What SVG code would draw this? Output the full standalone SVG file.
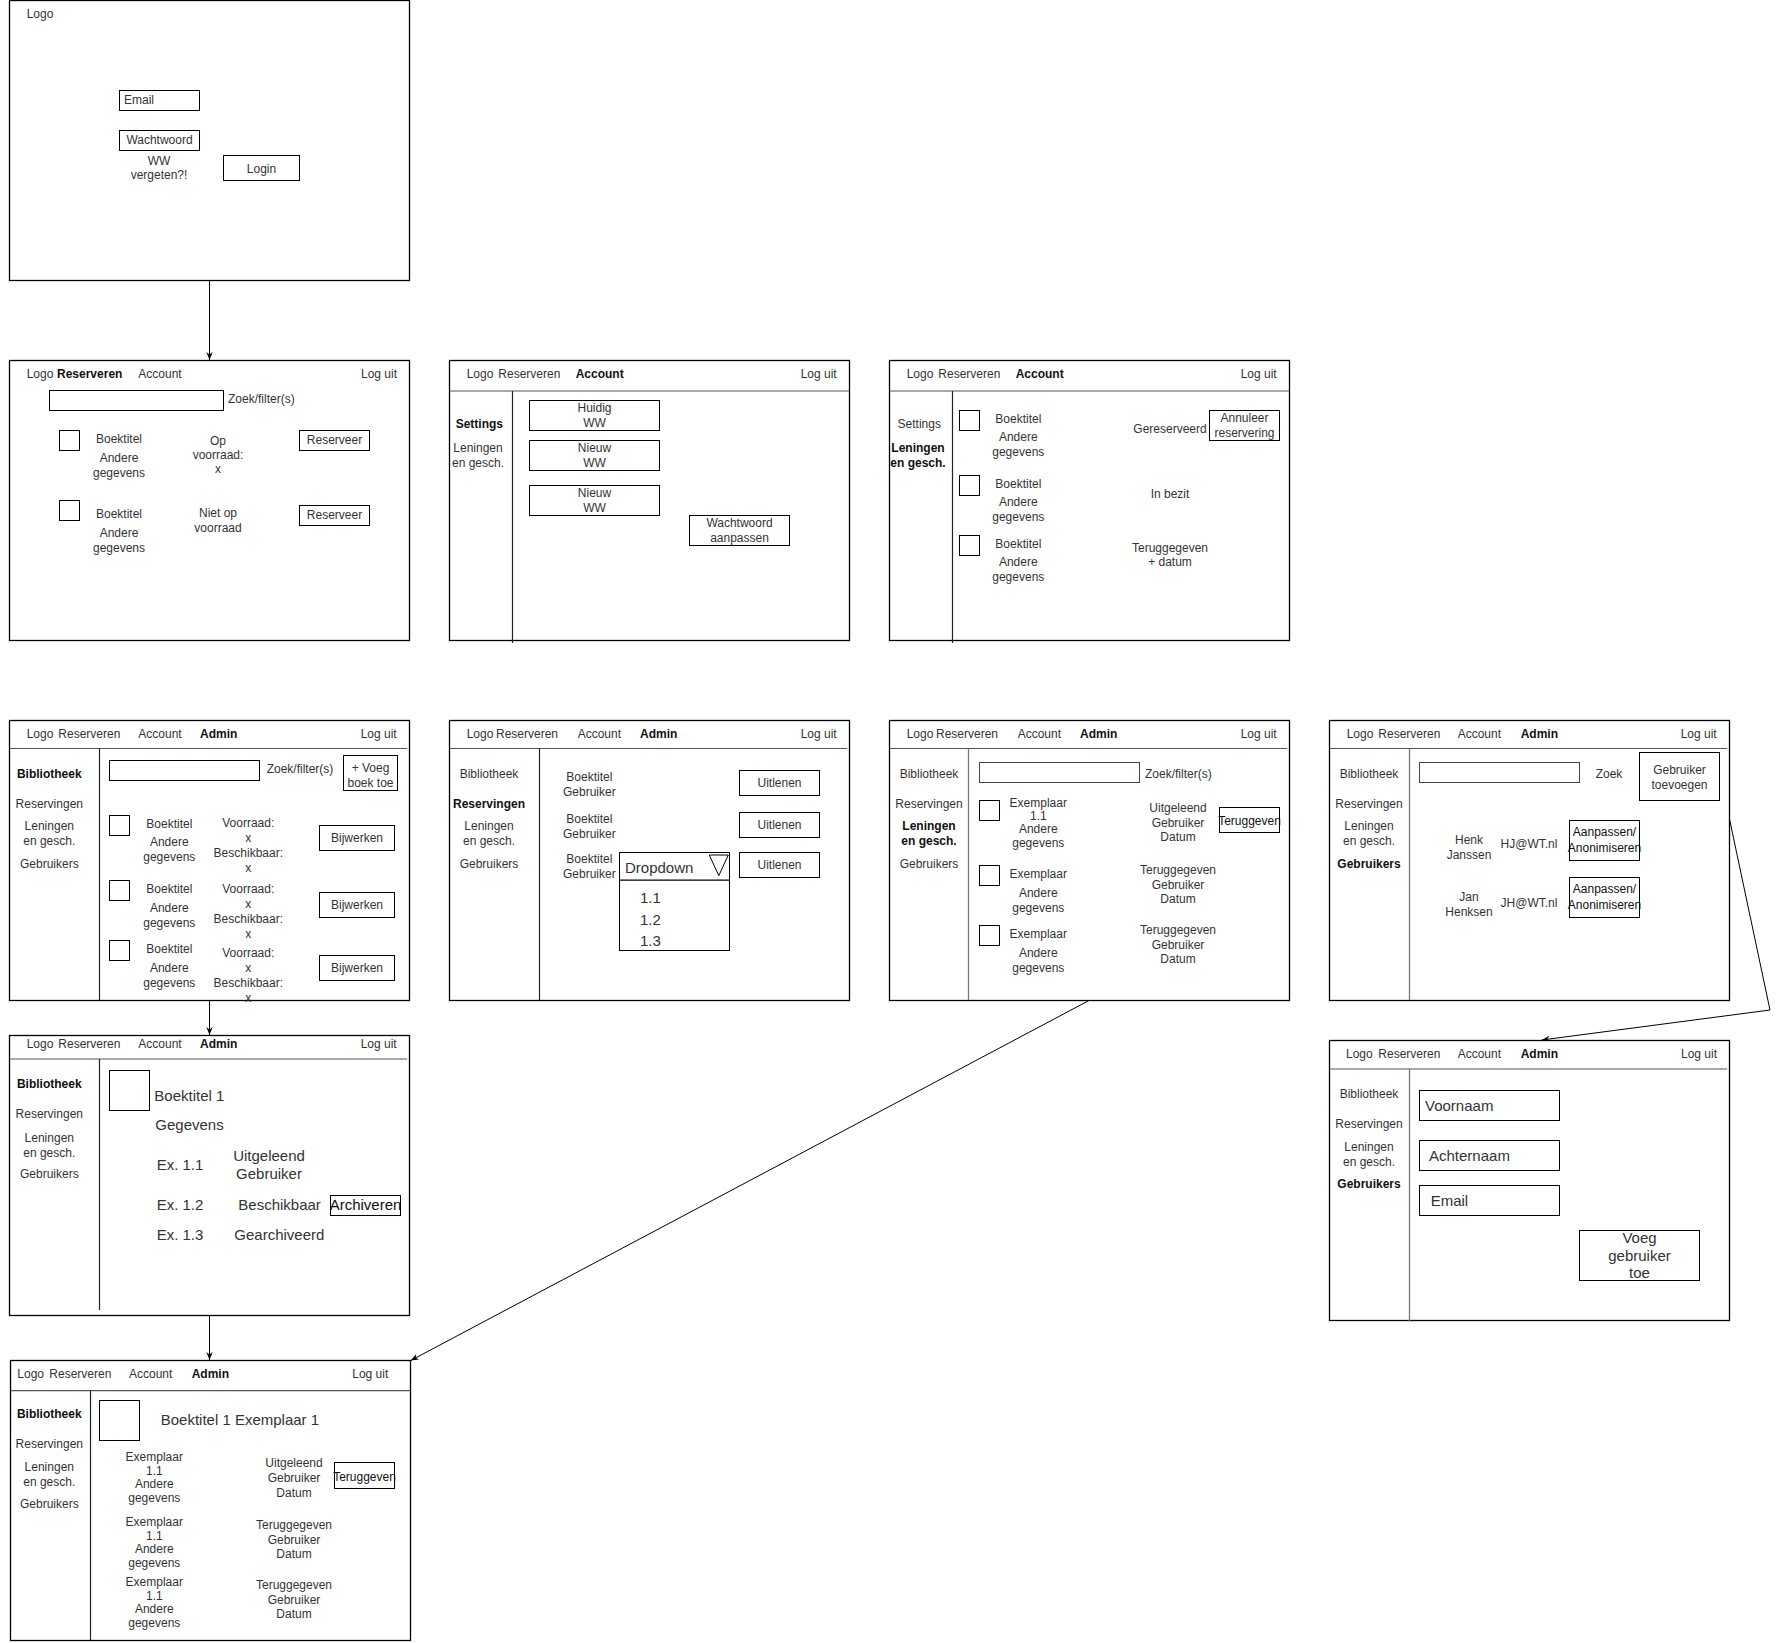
<svg xmlns="http://www.w3.org/2000/svg" width="1779" height="1643" viewBox="0 0 1779 1643">
<style>
.scr{fill:#fff;stroke:#000;stroke-width:1.3}
.box{fill:#fff;stroke:#000;stroke-width:1}
.hl{stroke:#555;stroke-width:1.2;fill:none}
.sl{stroke:#222;stroke-width:1.2;fill:none}
.sg{stroke:#777;stroke-width:1.3;fill:none}
.t{font-family:"Liberation Sans",Arial,Helvetica,sans-serif;font-size:12px;fill:#333}
.c{text-anchor:middle}
.e{text-anchor:end}
.b{font-weight:bold;fill:#111}
.l{font-size:15px}
.edge{stroke:#000;stroke-width:1;fill:none}
</style>
<defs>
<marker id="arr" viewBox="0 0 10 10" refX="10" refY="5" markerWidth="8" markerHeight="8" markerUnits="userSpaceOnUse" orient="auto">
<path d="M0,1 L10,5 L0,9 L3,5 Z" fill="#000"/>
</marker>
</defs>
<rect width="1779" height="1643" fill="#fff"/>

<g id="connectors">
<path class="edge" d="M209.5,280.5 V360" marker-end="url(#arr)"/>
<path class="edge" d="M209.5,1000.5 V1035" marker-end="url(#arr)"/>
<path class="edge" d="M209.5,1315.5 V1360" marker-end="url(#arr)"/>
<path class="edge" d="M1089,1000.5 L410.7,1360.5" marker-end="url(#arr)"/>
<path class="edge" d="M1719.5,772 L1770,1010 L1541.7,1040" marker-end="url(#arr)"/>
</g>

<g id="login">
<rect class="scr" x="9.5" y="0.5" width="400" height="280"/>
<text class="t" x="26.7" y="18">Logo</text>
<rect class="box" x="119.5" y="90.5" width="80" height="20"/>
<text class="t" x="124" y="103.5">Email</text>
<rect class="box" x="119.5" y="130.5" width="80" height="20"/>
<text class="t c" x="159.5" y="143.5">Wachtwoord</text>
<text class="t c" x="159" y="165">WW</text>
<text class="t c" x="159" y="179">vergeten?!</text>
<rect class="box" x="223.5" y="155.5" width="76" height="25"/>
<text class="t c" x="261.5" y="173">Login</text>
</g>

<g id="reserveren">
<rect class="scr" x="9.5" y="360.5" width="400" height="280"/>
<text class="t" x="26.7" y="378">Logo</text>
<text class="t b" x="57" y="378">Reserveren</text>
<text class="t" x="138.3" y="378">Account</text>
<text class="t e" x="397" y="378">Log uit</text>
<rect class="box" x="49.5" y="390.5" width="174" height="20"/>
<text class="t" x="228" y="403">Zoek/filter(s)</text>
<rect class="box" x="59.5" y="430.5" width="20" height="20"/>
<text class="t c" x="119" y="443">Boektitel</text>
<text class="t c" x="119" y="461.5">Andere</text>
<text class="t c" x="119" y="476.5">gegevens</text>
<text class="t c" x="218" y="445">Op</text>
<text class="t c" x="218" y="459">voorraad:</text>
<text class="t c" x="218" y="473">x</text>
<rect class="box" x="299.5" y="430.5" width="70" height="20"/>
<text class="t c" x="334.5" y="444">Reserveer</text>
<rect class="box" x="59.5" y="500.5" width="20" height="20"/>
<text class="t c" x="119" y="518.3">Boektitel</text>
<text class="t c" x="119" y="536.7">Andere</text>
<text class="t c" x="119" y="551.7">gegevens</text>
<text class="t c" x="218" y="516.7">Niet op</text>
<text class="t c" x="218" y="531.7">voorraad</text>
<rect class="box" x="299.5" y="505.5" width="70" height="20"/>
<text class="t c" x="334.5" y="519">Reserveer</text>
</g>

<g id="account-settings">
<rect class="scr" x="449.5" y="360.5" width="400" height="280"/>
<path class="hl" d="M449.5,391 H849"/>
<path class="sl" d="M512.5,391 V643"/>
<text class="t" x="466.7" y="378">Logo</text>
<text class="t" x="498.3" y="378">Reserveren</text>
<text class="t b" x="575.7" y="378">Account</text>
<text class="t e" x="836.7" y="378">Log uit</text>
<text class="t b c" x="479.3" y="428.3">Settings</text>
<text class="t c" x="478" y="451.7">Leningen</text>
<text class="t c" x="478" y="466.7">en gesch.</text>
<rect class="box" x="529.5" y="400.5" width="130" height="30"/>
<text class="t c" x="594.5" y="412.3">Huidig</text>
<text class="t c" x="594.5" y="427.3">WW</text>
<rect class="box" x="529.5" y="440.5" width="130" height="30"/>
<text class="t c" x="594.5" y="452.3">Nieuw</text>
<text class="t c" x="594.5" y="467.3">WW</text>
<rect class="box" x="529.5" y="485.5" width="130" height="30"/>
<text class="t c" x="594.5" y="497.3">Nieuw</text>
<text class="t c" x="594.5" y="512.3">WW</text>
<rect class="box" x="689.5" y="515.5" width="100" height="30"/>
<text class="t c" x="739.5" y="527.3">Wachtwoord</text>
<text class="t c" x="739.5" y="542.3">aanpassen</text>
</g>

<g id="account-leningen">
<rect class="scr" x="889.5" y="360.5" width="400" height="280"/>
<path class="hl" d="M889.5,391 H1289"/>
<path class="sl" d="M952.5,391 V643"/>
<text class="t" x="906.7" y="378">Logo</text>
<text class="t" x="938.3" y="378">Reserveren</text>
<text class="t b" x="1015.7" y="378">Account</text>
<text class="t e" x="1276.7" y="378">Log uit</text>
<text class="t c" x="919.3" y="428.3">Settings</text>
<text class="t b c" x="918" y="451.7">Leningen</text>
<text class="t b c" x="918" y="466.7">en gesch.</text>
<rect class="box" x="959.5" y="410.5" width="20" height="20"/>
<text class="t c" x="1018.3" y="423.3">Boektitel</text>
<text class="t c" x="1018.3" y="441">Andere</text>
<text class="t c" x="1018.3" y="456">gegevens</text>
<text class="t c" x="1170" y="433.3">Gereserveerd</text>
<rect class="box" x="1209.5" y="410.5" width="70" height="30"/>
<text class="t c" x="1244.5" y="421.5">Annuleer</text>
<text class="t c" x="1244.5" y="436.5">reservering</text>
<rect class="box" x="959.5" y="475.5" width="20" height="20"/>
<text class="t c" x="1018.3" y="488.3">Boektitel</text>
<text class="t c" x="1018.3" y="505.7">Andere</text>
<text class="t c" x="1018.3" y="521">gegevens</text>
<text class="t c" x="1170" y="498.3">In bezit</text>
<rect class="box" x="959.5" y="535.5" width="20" height="20"/>
<text class="t c" x="1018.3" y="548.3">Boektitel</text>
<text class="t c" x="1018.3" y="566">Andere</text>
<text class="t c" x="1018.3" y="581">gegevens</text>
<text class="t c" x="1170" y="551.7">Teruggegeven</text>
<text class="t c" x="1170" y="566">+ datum</text>
</g>

<g id="admin-bibliotheek">
<rect class="scr" x="9.5" y="720.5" width="400" height="280"/>
<path class="hl" d="M9.5,748.5 H407"/>
<path class="sl" d="M99.5,748.5 V1000"/>
<text class="t" x="26.7" y="738.3">Logo</text>
<text class="t" x="58.3" y="738.3">Reserveren</text>
<text class="t" x="138.3" y="738.3">Account</text>
<text class="t b" x="200" y="738.3">Admin</text>
<text class="t e" x="396.7" y="738.3">Log uit</text>
<text class="t b c" x="49.3" y="778.3">Bibliotheek</text>
<text class="t c" x="49.3" y="808.3">Reservingen</text>
<text class="t c" x="49.3" y="830">Leningen</text>
<text class="t c" x="49.3" y="845">en gesch.</text>
<text class="t c" x="49.3" y="868.3">Gebruikers</text>
<rect class="box" x="109.5" y="760.5" width="150" height="20"/>
<text class="t" x="266.7" y="773.3">Zoek/filter(s)</text>
<rect class="box" x="343.5" y="755.5" width="54" height="35"/>
<text class="t c" x="370.5" y="771.7">+ Voeg</text>
<text class="t c" x="370.5" y="786.7">boek toe</text>
<rect class="box" x="109.5" y="815.5" width="20" height="20"/>
<text class="t c" x="169.3" y="828.3">Boektitel</text>
<text class="t c" x="169.3" y="846">Andere</text>
<text class="t c" x="169.3" y="861">gegevens</text>
<text class="t c" x="248.3" y="826.7">Voorraad:</text>
<text class="t c" x="248.3" y="841.7">x</text>
<text class="t c" x="248.3" y="856.7">Beschikbaar:</text>
<text class="t c" x="248.3" y="871.7">x</text>
<rect class="box" x="319.5" y="825.5" width="75" height="25"/>
<text class="t c" x="357" y="841.5">Bijwerken</text>
<rect class="box" x="109.5" y="880.5" width="20" height="20"/>
<text class="t c" x="169.3" y="893.3">Boektitel</text>
<text class="t c" x="169.3" y="911.7">Andere</text>
<text class="t c" x="169.3" y="926.7">gegevens</text>
<text class="t c" x="248.3" y="893.3">Voorraad:</text>
<text class="t c" x="248.3" y="908.3">x</text>
<text class="t c" x="248.3" y="923.3">Beschikbaar:</text>
<text class="t c" x="248.3" y="938.3">x</text>
<rect class="box" x="319.5" y="892.5" width="75" height="25"/>
<text class="t c" x="357" y="908.5">Bijwerken</text>
<rect class="box" x="109.5" y="940.5" width="20" height="20"/>
<text class="t c" x="169.3" y="953.3">Boektitel</text>
<text class="t c" x="169.3" y="971.7">Andere</text>
<text class="t c" x="169.3" y="986.7">gegevens</text>
<text class="t c" x="248.3" y="956.7">Voorraad:</text>
<text class="t c" x="248.3" y="971.7">x</text>
<text class="t c" x="248.3" y="986.7">Beschikbaar:</text>
<text class="t c" x="248.3" y="1001.7">x</text>
<rect class="box" x="319.5" y="955.5" width="75" height="25"/>
<text class="t c" x="357" y="971.5">Bijwerken</text>
</g>

<g id="admin-reserveringen">
<rect class="scr" x="449.5" y="720.5" width="400" height="280"/>
<path class="hl" d="M449.5,748.5 H847"/>
<path class="sl" d="M539.5,748.5 V1000"/>
<text class="t" x="466.7" y="738.3">Logo</text>
<text class="t" x="496" y="738.3">Reserveren</text>
<text class="t" x="577.7" y="738.3">Account</text>
<text class="t b" x="640" y="738.3">Admin</text>
<text class="t e" x="836.7" y="738.3">Log uit</text>
<text class="t c" x="489" y="778.3">Bibliotheek</text>
<text class="t b c" x="489" y="808.3">Reservingen</text>
<text class="t c" x="489" y="830">Leningen</text>
<text class="t c" x="489" y="845">en gesch.</text>
<text class="t c" x="489" y="868.3">Gebruikers</text>
<text class="t c" x="589.3" y="780.5">Boektitel</text>
<text class="t c" x="589.3" y="795.5">Gebruiker</text>
<text class="t c" x="589.3" y="823.3">Boektitel</text>
<text class="t c" x="589.3" y="838.3">Gebruiker</text>
<text class="t c" x="589.3" y="863.3">Boektitel</text>
<text class="t c" x="589.3" y="878.3">Gebruiker</text>
<rect class="box" x="739.5" y="770.5" width="80" height="25"/>
<text class="t c" x="779.5" y="786.5">Uitlenen</text>
<rect class="box" x="739.5" y="812.5" width="80" height="25"/>
<text class="t c" x="779.5" y="828.5">Uitlenen</text>
<rect class="box" x="739.5" y="852.5" width="80" height="25"/>
<text class="t c" x="779.5" y="868.5">Uitlenen</text>
<rect class="box" x="619.5" y="880" width="110" height="70.5"/>
<rect class="box" x="619.5" y="852.5" width="110" height="27.5"/>
<path class="edge" d="M709.3,855 L728.3,855 L718.8,875.7 Z" fill="#fff"/>
<text class="t l" x="625" y="873">Dropdown</text>
<text class="t l" x="640" y="903">1.1</text>
<text class="t l" x="640" y="925">1.2</text>
<text class="t l" x="640" y="945.5">1.3</text>
</g>

<g id="admin-leningen">
<rect class="scr" x="889.5" y="720.5" width="400" height="280"/>
<path class="hl" d="M889.5,748.5 H1287"/>
<path class="sg" d="M968.5,748.5 V1000"/>
<text class="t" x="906.7" y="738.3">Logo</text>
<text class="t" x="936" y="738.3">Reserveren</text>
<text class="t" x="1017.7" y="738.3">Account</text>
<text class="t b" x="1080" y="738.3">Admin</text>
<text class="t e" x="1276.7" y="738.3">Log uit</text>
<text class="t c" x="929" y="778.3">Bibliotheek</text>
<text class="t c" x="929" y="808.3">Reservingen</text>
<text class="t b c" x="929" y="830">Leningen</text>
<text class="t b c" x="929" y="845">en gesch.</text>
<text class="t c" x="929" y="868.3">Gebruikers</text>
<rect class="box" x="979.5" y="762.5" width="160" height="20" style="stroke:#444"/>
<text class="t" x="1145" y="777.7">Zoek/filter(s)</text>
<rect class="box" x="979.5" y="800.5" width="20" height="20"/>
<text class="t c" x="1038.3" y="806.5">Exemplaar</text>
<text class="t c" x="1038.3" y="819.5">1.1</text>
<text class="t c" x="1038.3" y="832.5">Andere</text>
<text class="t c" x="1038.3" y="846.5">gegevens</text>
<text class="t c" x="1178" y="812.3">Uitgeleend</text>
<text class="t c" x="1178" y="827.3">Gebruiker</text>
<text class="t c" x="1178" y="841">Datum</text>
<rect class="box" x="1219.5" y="807.5" width="60" height="25"/>
<text class="t c" x="1249.5" y="825" style="fill:#111">Teruggeven</text>
<rect class="box" x="979.5" y="865.5" width="20" height="20"/>
<text class="t c" x="1038.3" y="878.3">Exemplaar</text>
<text class="t c" x="1038.3" y="896.7">Andere</text>
<text class="t c" x="1038.3" y="911.7">gegevens</text>
<text class="t c" x="1178" y="874.3">Teruggegeven</text>
<text class="t c" x="1178" y="889">Gebruiker</text>
<text class="t c" x="1178" y="903.3">Datum</text>
<rect class="box" x="979.5" y="925.5" width="20" height="20"/>
<text class="t c" x="1038.3" y="938.3">Exemplaar</text>
<text class="t c" x="1038.3" y="956.7">Andere</text>
<text class="t c" x="1038.3" y="971.7">gegevens</text>
<text class="t c" x="1178" y="934.3">Teruggegeven</text>
<text class="t c" x="1178" y="949">Gebruiker</text>
<text class="t c" x="1178" y="963.3">Datum</text>
</g>

<g id="admin-gebruikers">
<rect class="scr" x="1329.5" y="720.5" width="400" height="280"/>
<path class="hl" d="M1329.5,748.5 H1727"/>
<path class="sg" d="M1409.5,748.5 V1000"/>
<text class="t" x="1346.7" y="738.3">Logo</text>
<text class="t" x="1378.3" y="738.3">Reserveren</text>
<text class="t" x="1457.7" y="738.3">Account</text>
<text class="t b" x="1520.7" y="738.3">Admin</text>
<text class="t e" x="1716.7" y="738.3">Log uit</text>
<text class="t c" x="1369" y="778.3">Bibliotheek</text>
<text class="t c" x="1369" y="808.3">Reservingen</text>
<text class="t c" x="1369" y="830">Leningen</text>
<text class="t c" x="1369" y="845">en gesch.</text>
<text class="t b c" x="1369" y="868.3">Gebruikers</text>
<rect class="box" x="1419.5" y="762.5" width="160" height="20" style="stroke:#444"/>
<text class="t c" x="1609" y="778.3">Zoek</text>
<rect class="box" x="1639.5" y="752.5" width="80" height="48"/>
<text class="t c" x="1679.5" y="774.3">Gebruiker</text>
<text class="t c" x="1679.5" y="789">toevoegen</text>
<text class="t c" x="1469" y="844.3">Henk</text>
<text class="t c" x="1469" y="859.3">Janssen</text>
<text class="t c" x="1529" y="848.3">HJ@WT.nl</text>
<rect class="box" x="1569.5" y="820.5" width="70" height="40"/>
<text class="t c" x="1604.5" y="836" style="fill:#111">Aanpassen/</text>
<text class="t c" x="1604.5" y="851.7" style="fill:#111">Anonimiseren</text>
<text class="t c" x="1469" y="901">Jan</text>
<text class="t c" x="1469" y="916">Henksen</text>
<text class="t c" x="1529" y="906.7">JH@WT.nl</text>
<rect class="box" x="1569.5" y="877.5" width="70" height="40"/>
<text class="t c" x="1604.5" y="893" style="fill:#111">Aanpassen/</text>
<text class="t c" x="1604.5" y="908.7" style="fill:#111">Anonimiseren</text>
</g>

<g id="boek-detail">
<rect class="scr" x="9.5" y="1035.5" width="400" height="280"/>
<path class="hl" d="M9.5,1059 H407"/>
<path class="sl" d="M99.5,1059 V1310"/>
<text class="t" x="26.7" y="1048.3">Logo</text>
<text class="t" x="58.3" y="1048.3">Reserveren</text>
<text class="t" x="138.3" y="1048.3">Account</text>
<text class="t b" x="200" y="1048.3">Admin</text>
<text class="t e" x="396.7" y="1048.3">Log uit</text>
<text class="t b c" x="49.3" y="1088.3">Bibliotheek</text>
<text class="t c" x="49.3" y="1118.3">Reservingen</text>
<text class="t c" x="49.3" y="1141.7">Leningen</text>
<text class="t c" x="49.3" y="1156.7">en gesch.</text>
<text class="t c" x="49.3" y="1178.3">Gebruikers</text>
<rect class="box" x="109.5" y="1070.5" width="40" height="40"/>
<text class="t l" x="154.3" y="1100.7">Boektitel 1</text>
<text class="t l" x="155.3" y="1130">Gegevens</text>
<text class="t l" x="156.7" y="1170">Ex. 1.1</text>
<text class="t l c" x="269" y="1161">Uitgeleend</text>
<text class="t l c" x="269" y="1179">Gebruiker</text>
<text class="t l" x="156.7" y="1210">Ex. 1.2</text>
<text class="t l" x="238.3" y="1210">Beschikbaar</text>
<rect class="box" x="330.5" y="1195.5" width="70" height="20"/>
<text class="t l c" x="365.5" y="1210" style="fill:#111">Archiveren</text>
<text class="t l" x="156.7" y="1240">Ex. 1.3</text>
<text class="t l" x="234.3" y="1240">Gearchiveerd</text>
</g>

<g id="gebruiker-toevoegen">
<rect class="scr" x="1329.5" y="1040.5" width="400" height="280"/>
<path class="hl" d="M1329.5,1069 H1727"/>
<path class="sg" d="M1409.5,1069 V1321.5"/>
<text class="t" x="1346" y="1058.3">Logo</text>
<text class="t" x="1378.3" y="1058.3">Reserveren</text>
<text class="t" x="1457.7" y="1058.3">Account</text>
<text class="t b" x="1520.7" y="1058.3">Admin</text>
<text class="t e" x="1717" y="1058.3">Log uit</text>
<text class="t c" x="1369" y="1098.3">Bibliotheek</text>
<text class="t c" x="1369" y="1128.3">Reservingen</text>
<text class="t c" x="1369" y="1151">Leningen</text>
<text class="t c" x="1369" y="1166">en gesch.</text>
<text class="t b c" x="1369" y="1188.3">Gebruikers</text>
<rect class="box" x="1419.5" y="1090.5" width="140" height="30"/>
<text class="t l" x="1425" y="1110.7">Voornaam</text>
<rect class="box" x="1419.5" y="1140.5" width="140" height="30"/>
<text class="t l" x="1429" y="1160.7">Achternaam</text>
<rect class="box" x="1419.5" y="1185.5" width="140" height="30"/>
<text class="t l" x="1430.7" y="1205.7">Email</text>
<rect class="box" x="1579.5" y="1230.5" width="120" height="50"/>
<text class="t l c" x="1639.5" y="1242.7">Voeg</text>
<text class="t l c" x="1639.5" y="1260.7">gebruiker</text>
<text class="t l c" x="1639.5" y="1278.3">toe</text>
</g>

<g id="exemplaar-detail">
<rect class="scr" x="10.5" y="1360.5" width="400" height="280"/>
<path class="hl" d="M11,1390.7 H410"/>
<path class="sl" d="M90.5,1390.7 V1640"/>
<text class="t" x="17.3" y="1378.3">Logo</text>
<text class="t" x="49.3" y="1378.3">Reserveren</text>
<text class="t" x="129" y="1378.3">Account</text>
<text class="t b" x="191.7" y="1378.3">Admin</text>
<text class="t e" x="388.3" y="1378.3">Log uit</text>
<text class="t b c" x="49.3" y="1418.3">Bibliotheek</text>
<text class="t c" x="49.3" y="1448.3">Reservingen</text>
<text class="t c" x="49.3" y="1471">Leningen</text>
<text class="t c" x="49.3" y="1486">en gesch.</text>
<text class="t c" x="49.3" y="1508.3">Gebruikers</text>
<rect class="box" x="99.5" y="1400.5" width="40" height="40"/>
<text class="t l" x="160.7" y="1425">Boektitel 1 Exemplaar 1</text>
<text class="t c" x="154.3" y="1461">Exemplaar</text>
<text class="t c" x="154.3" y="1474.5">1.1</text>
<text class="t c" x="154.3" y="1488">Andere</text>
<text class="t c" x="154.3" y="1502">gegevens</text>
<text class="t c" x="154.3" y="1526">Exemplaar</text>
<text class="t c" x="154.3" y="1539.5">1.1</text>
<text class="t c" x="154.3" y="1553">Andere</text>
<text class="t c" x="154.3" y="1567">gegevens</text>
<text class="t c" x="154.3" y="1586">Exemplaar</text>
<text class="t c" x="154.3" y="1599.5">1.1</text>
<text class="t c" x="154.3" y="1613">Andere</text>
<text class="t c" x="154.3" y="1627">gegevens</text>
<text class="t c" x="294" y="1467.3">Uitgeleend</text>
<text class="t c" x="294" y="1481.7">Gebruiker</text>
<text class="t c" x="294" y="1496.7">Datum</text>
<rect class="box" x="334.5" y="1462.5" width="60" height="26"/>
<text class="t c" x="364.5" y="1481" style="fill:#111">Teruggeven</text>
<text class="t c" x="294" y="1529.3">Teruggegeven</text>
<text class="t c" x="294" y="1544">Gebruiker</text>
<text class="t c" x="294" y="1558.3">Datum</text>
<text class="t c" x="294" y="1589.3">Teruggegeven</text>
<text class="t c" x="294" y="1604">Gebruiker</text>
<text class="t c" x="294" y="1618.3">Datum</text>
</g>
</svg>
